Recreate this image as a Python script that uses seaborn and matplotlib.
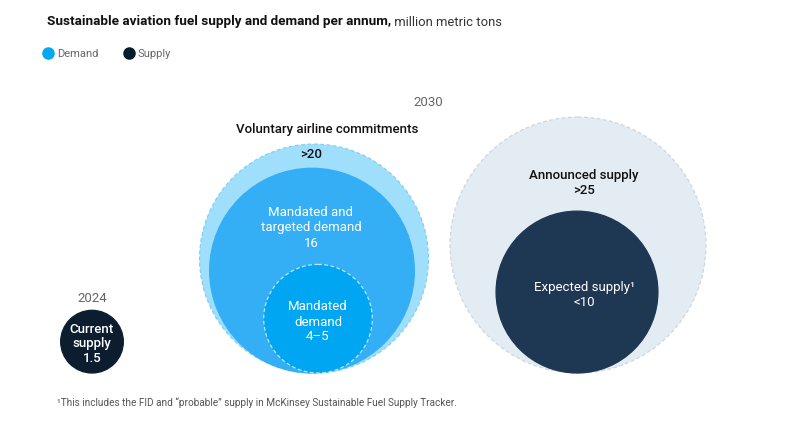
import numpy as np
import matplotlib.pyplot as plt
import seaborn as sns
from matplotlib.patches import Circle
from matplotlib.lines import Line2D

sns.set_theme(style="white")
plt.rcParams["font.family"] = ["Roboto", "DejaVu Sans"]

# SAF supply and demand, million metric tons
circle_names = ["Current\nsupply", "Voluntary airline commitments", "Mandated and\ntargeted demand",
                "Mandated\ndemand", "Announced supply", "Expected supply¹"]
circle_values = [1.5, 20, 16, 4.5, 25, 10]
circle_labels = ["1.5", ">20", "16", "4–5", ">25", "<10"]
circle_kind = ["Supply", "Demand", "Demand", "Demand", "Supply", "Supply"]
years = ["2024", "2030"]
footnote = "¹This includes the FID and “probable” supply in McKinsey Sustainable Fuel Supply Tracker."

# layout (pixel space, y downwards)
center_x = [92, 314, 312, 318, 578, 577]
baseline = 373
px_per_unit = 655  # circle area per million tons
fills = ["#0b1d2e", "#a0dffc", "#34aff5", "#00a6f1", "#e4ecf3", "#1e3752"]
edges = ["#0b1d2e", "#7fd0f5", "#34aff5", "#b9e6fb", "#ccd7e1", "#1e3752"]
dashed = [False, True, False, True, True, False]
text_col = ["white", "#111111", "white", "white", "#111111", "white"]

fig = plt.figure(figsize=(8, 4.26), dpi=100)
ax = fig.add_axes([0, 0, 1, 1])
ax.set_xlim(0, 800)
ax.set_ylim(426, 0)
ax.axis("off")

radii = [np.sqrt(v * px_per_unit) for v in circle_values]
for i in range(len(circle_values)):
    c = Circle((center_x[i], baseline - radii[i]), radii[i], facecolor=fills[i],
               edgecolor=edges[i], lw=0.9, ls=(0, (3, 2)) if dashed[i] else "-", zorder=i + 1)
    ax.add_patch(c)

# labels
kw = dict(ha="center", va="center", fontsize=9.5, zorder=10)
ax.text(center_x[0], 344, circle_names[0] + "\n" + circle_labels[0], color=text_col[0],
        linespacing=1.15, fontweight="medium", **kw)
ax.text(327, 130, circle_names[1], color=text_col[1], fontweight="medium", **kw)
ax.text(311, 155, circle_labels[1], color=text_col[1], fontweight="medium", **kw)
ax.text(311, 228, circle_names[2] + "\n" + circle_labels[2], color=text_col[2],
        linespacing=1.25, **kw)
ax.text(318, 322, circle_names[3] + "\n" + circle_labels[3], color=text_col[3],
        linespacing=1.2, **kw)
ax.text(584, 183, circle_names[4] + "\n" + circle_labels[4], color=text_col[4],
        linespacing=1.1, fontweight="medium", **kw)
ax.text(584, 295, circle_names[5] + "\n" + circle_labels[5], color=text_col[5],
        linespacing=1.1, **kw)

ax.text(92, 299, years[0], color="#666666", ha="center", va="center", fontsize=9.5)
ax.text(428, 103, years[1], color="#666666", ha="center", va="center", fontsize=9.5)

# title
t = ax.text(47, 22, "Sustainable aviation fuel supply and demand per annum,", fontsize=9.7,
            fontweight="bold", color="#111111", ha="left", va="center")
ax.annotate(" million metric tons", xy=(1, 0.5), xycoords=t, va="center", ha="left",
            fontsize=9.4, color="#333333")

# legend
handles = [Line2D([], [], marker="o", ls="", markersize=8, markerfacecolor=c, markeredgecolor=c)
           for c in ["#00a9f4", "#051c2c"]]
ax.legend(handles, ["Demand", "Supply"], loc="center left", bbox_to_anchor=(0.055, 1 - 54 / 426),
          ncol=2, frameon=False, fontsize=8, labelcolor="#666666", handletextpad=0.35,
          columnspacing=2.4, handlelength=0.8, borderaxespad=0, borderpad=0)

ax.text(57, 403, footnote, fontsize=7.2, color="#555555", ha="left", va="center")

fig.savefig("out.png", dpi=100, facecolor="white")
